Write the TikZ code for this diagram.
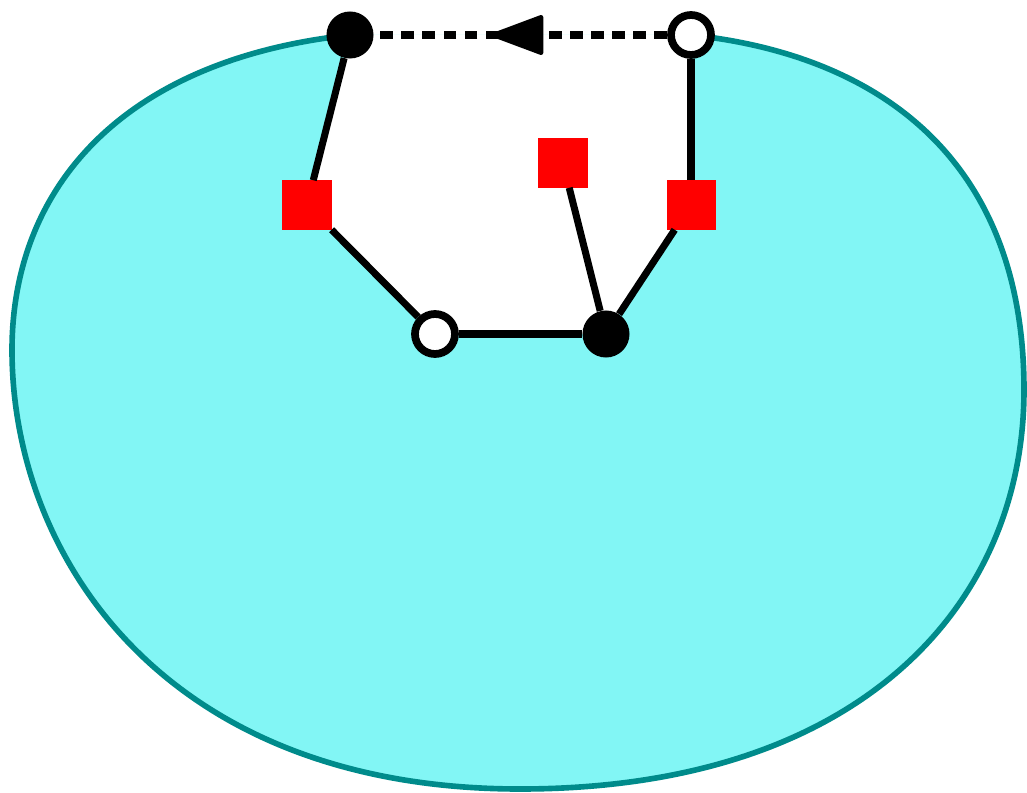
\documentclass[tikz,border=0pt]{standalone}
\usepackage{tikz}
\usetikzlibrary{arrows.meta,decorations.markings,backgrounds}
\definecolor{blobfill}{HTML}{82F6F5}
\definecolor{blobline}{HTML}{008B8B}
\definecolor{sqred}{HTML}{FF0000}

\begin{document}
\begin{tikzpicture}[x=0.025cm, y=-0.025cm,
  blk/.style={circle, fill=black, minimum size=1.175cm, inner sep=0pt},
  wht/.style={circle, draw=black, fill=white, line width=5.5pt, minimum size=1.0cm, inner sep=0pt},
  sq/.style={rectangle, fill=sqred, minimum size=1.225cm, inner sep=0pt},
  link/.style={draw=black, line width=5pt},
  flow/.style={draw=black, line width=5pt, dash pattern=on 9pt off 6pt},
]
\useasboundingbox (0,0) rectangle (1027,793);
% vertices (pixel grid, y down)
\node[blk] (b1) at (350,35)  {};
\node[wht] (w1) at (691,35)  {};
\node[sq]  (s1) at (307,205) {};
\node[sq]  (s2) at (563,163) {};
\node[sq]  (s3) at (691,205) {};
\node[wht] (w2) at (435,334) {};
\node[blk] (b2) at (606,334) {};

% region with the notch cut out
\def\rim{(b1.center) .. controls (120,60) and (12,190) .. (12,350)
  .. controls (12,557) and (165,789) .. (520,789)
  .. controls (860,789) and (1024,605) .. (1024,390)
  .. controls (1024,160) and (880,55) .. (w1.center)}
\begin{scope}[on background layer]
  \fill[blobfill] \rim -- cycle;
  \fill[white] (b1.center) -- (s1.center) -- (w2.center) -- (b2.center) -- (s3.center) -- (w1.center) -- cycle;
  \draw[blobline, line width=4pt] \rim;
\end{scope}

% connectors
\draw[link] (b1) -- (s1);
\draw[link] (s1) -- (w2);
\draw[link] (w2) -- (b2);
\draw[link] (s2) -- (b2);
\draw[link] (b2) -- (s3);
\draw[link] (s3) -- (w1);
\draw[flow, postaction={decorate}, decoration={markings,
  mark=at position 0.6 with {\arrow{Triangle[length=40pt,width=29pt,round,line width=3pt]}}}] (w1) -- (b1);
\end{tikzpicture}
\end{document}
